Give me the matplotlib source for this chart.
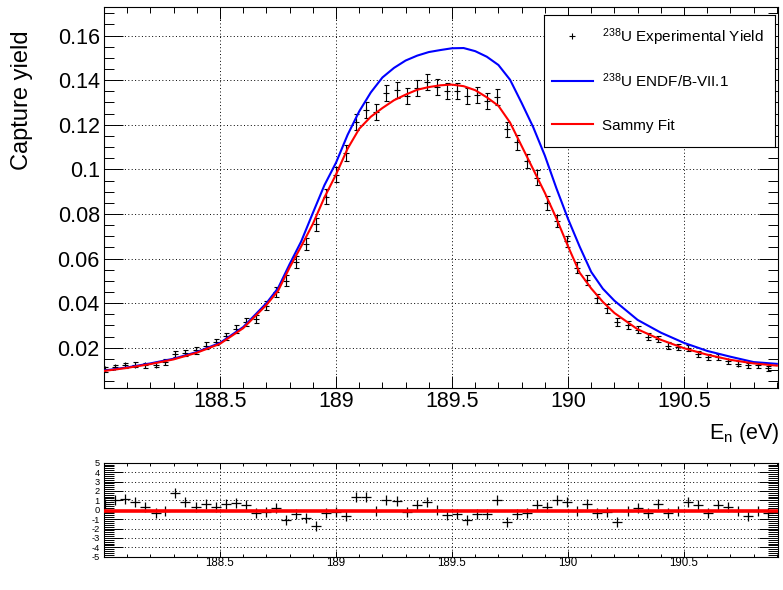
import matplotlib
matplotlib.use('Agg')
import matplotlib.pyplot as plt
from matplotlib.ticker import MultipleLocator, FixedLocator, FuncFormatter

plt.rcParams['font.family'] = ['Liberation Sans', 'DejaVu Sans']
plt.rcParams['mathtext.default'] = 'regular'

# measured points (bin centres, eV)
energy = [188.005, 188.048, 188.092, 188.135, 188.178, 188.222, 188.265, 188.308,
          188.351, 188.395, 188.438, 188.481, 188.525, 188.568, 188.611, 188.655,
          188.698, 188.741, 188.784, 188.828, 188.871, 188.914, 188.958, 189.001,
          189.044, 189.088, 189.131, 189.174, 189.217, 189.261, 189.304, 189.347,
          189.391, 189.434, 189.477, 189.521, 189.564, 189.607, 189.650, 189.694,
          189.737, 189.780, 189.824, 189.867, 189.910, 189.954, 189.997, 190.040,
          190.083, 190.127, 190.170, 190.213, 190.257, 190.300, 190.343, 190.387,
          190.430, 190.473, 190.516, 190.560, 190.603, 190.646, 190.690, 190.733,
          190.776, 190.820, 190.863]
yield_exp = [0.0103, 0.0114, 0.0121, 0.0124, 0.0121, 0.0124, 0.0136, 0.0173,
             0.0176, 0.0188, 0.0210, 0.0226, 0.0252, 0.0285, 0.0317, 0.0329,
             0.0389, 0.0451, 0.0501, 0.0585, 0.0665, 0.0754, 0.0878, 0.0977,
             0.1074, 0.1211, 0.1268, 0.1256, 0.1343, 0.1354, 0.1330, 0.1365,
             0.1392, 0.1369, 0.1350, 0.1350, 0.1330, 0.1335, 0.1305, 0.1325,
             0.1179, 0.1122, 0.1037, 0.0963, 0.0850, 0.0769, 0.0677, 0.0560,
             0.0504, 0.0422, 0.0377, 0.0315, 0.0303, 0.0282, 0.0250, 0.0240,
             0.0210, 0.0203, 0.0198, 0.0173, 0.0158, 0.0158, 0.0139, 0.0128,
             0.0121, 0.0121, 0.0109]
yield_err = [0.0011, 0.0011, 0.0011, 0.0011, 0.0011, 0.0012, 0.0012,
             0.0013, 0.0013, 0.0014, 0.0015, 0.0015, 0.0016,
             0.0017, 0.0018, 0.0018, 0.0020, 0.0022, 0.0024, 0.0026,
             0.0028, 0.0030, 0.0032, 0.0034, 0.0035,
             0.0036, 0.0036, 0.0036, 0.0036, 0.0036, 0.0036, 0.0036, 0.0036,
             0.0036, 0.0036, 0.0036, 0.0036, 0.0036, 0.0036, 0.0036,
             0.0035, 0.0034, 0.0033, 0.0032, 0.0030,
             0.0028, 0.0026, 0.0024, 0.0022, 0.0021, 0.0019, 0.0018,
             0.0017, 0.0016, 0.0015, 0.0015, 0.0014, 0.0014,
             0.0013, 0.0013, 0.0012, 0.0012, 0.0012, 0.0011, 0.0011, 0.0011, 0.0011]
residual = [0.6, 1.0, 1.1, 0.85, 0.32, -0.38, -0.1, 1.8, 0.85, 0.25, 0.6, 0.32,
            0.6, 0.68, 0.5, -0.38, -0.2, 0.15, -1.1, -0.46, -0.92, -1.73, -0.32,
            -0.2, -0.67, 1.38, 1.38, -0.1, 1.03, 0.96, -0.2, 0.5, 0.85, 0.0,
            -0.56, -0.5, -1.1, -0.5, -0.5, 1.03, -1.28, -0.46, -0.38, 0.5, 0.25,
            1.03, 0.78, -0.1, 0.6, -0.38, -0.2, -1.28, -0.1, 0.15, -0.38, 0.6,
            -0.38, -0.1, 0.85, 0.5, -0.38, 0.5, 0.25, -0.1, -0.63, -0.1, -0.38]
resid_level = -0.1

# theory curves
curve_e = [188.0, 188.1, 188.2, 188.3, 188.4, 188.5, 188.6, 188.7, 188.75, 188.8,
           188.85, 188.9, 188.95, 189.0, 189.05, 189.1, 189.15, 189.2, 189.25,
           189.3, 189.35, 189.4, 189.45, 189.5, 189.55, 189.6, 189.65, 189.7,
           189.75, 189.8, 189.85, 189.9, 189.95, 190.0, 190.05, 190.1, 190.15,
           190.2, 190.3, 190.4, 190.5, 190.6, 190.7, 190.8, 190.9]
sammy_fit = [0.0096, 0.0110, 0.0127, 0.0148, 0.0178, 0.0218, 0.0288, 0.0392,
             0.0455, 0.0560, 0.0655, 0.0755, 0.0874, 0.0977, 0.1093, 0.1182,
             0.1236, 0.1275, 0.1310, 0.1335, 0.1357, 0.1369, 0.1377, 0.1380,
             0.1373, 0.1355, 0.1323, 0.1285, 0.1210, 0.1105, 0.1000, 0.0895,
             0.0780, 0.0655, 0.0537, 0.0466, 0.0406, 0.0356, 0.0283, 0.0236,
             0.0198, 0.0169, 0.0146, 0.0130, 0.0120]
endf = [0.0098, 0.0112, 0.0130, 0.0151, 0.0181, 0.0222, 0.0293, 0.0400,
        0.0467, 0.0575, 0.0677, 0.0804, 0.0929, 0.1030, 0.1155, 0.1260,
        0.1345, 0.1412, 0.1455, 0.1488, 0.1510, 0.1526, 0.1535, 0.1543,
        0.1544, 0.1530, 0.1505, 0.1468, 0.1402, 0.1298, 0.1189, 0.1062,
        0.0915, 0.0778, 0.0654, 0.0540, 0.0465, 0.0411, 0.0325, 0.0268,
        0.0222, 0.0186, 0.0160, 0.0136, 0.0128]

labels = ['$^{238}$U Experimental Yield', '$^{238}$U ENDF/B-VII.1', 'Sammy Fit']
blue, red = '#0000ff', '#ff0000'

W, H = 783, 590
fig = plt.figure(figsize=(W / 100, H / 100), dpi=100)

ax = fig.add_axes([104 / W, 1 - 387.5 / H, 674 / W, 380.5 / H])
ax2 = fig.add_axes([104 / W, 1 - 556.7 / H, 674 / W, 94 / H])

grid_style = dict(color='black', linestyle=(0, (1, 2.5)), linewidth=0.7)
fmt = FuncFormatter(lambda v, p: '%g' % round(v, 4))

ax.errorbar(energy, yield_exp, yerr=yield_err, fmt='+', color='black', ms=4,
            mew=0.8, elinewidth=0.8, capsize=1.8, capthick=0.8, zorder=3)
ax.plot(curve_e, endf, color=blue, lw=1.5, zorder=4)
ax.plot(curve_e, sammy_fit, color=red, lw=1.5, zorder=5)

ax.set_xlim(188.0, 190.905)
ax.set_ylim(0.0022, 0.1728)
ax.xaxis.set_major_locator(FixedLocator([188.5, 189.0, 189.5, 190.0, 190.5]))
ax.xaxis.set_minor_locator(MultipleLocator(0.1))
ax.yaxis.set_major_locator(MultipleLocator(0.02))
ax.yaxis.set_minor_locator(MultipleLocator(0.005))
ax.xaxis.set_major_formatter(fmt)
ax.yaxis.set_major_formatter(fmt)
ax.grid(True, which='major', **grid_style)
ax.tick_params(which='both', direction='in', top=True, right=True, width=0.7,
               labelsize=15.5)
ax.tick_params(axis='y', which='major', length=14, pad=3)
ax.tick_params(axis='y', which='minor', length=7.5)
ax.tick_params(axis='x', which='major', length=8.5, pad=2.5)
ax.tick_params(axis='x', which='minor', length=4.5)
for s in ax.spines.values():
    s.set_linewidth(0.8)

fig.text(21.7 / W, 1 - 30 / H, 'Capture yield', rotation=90, ha='center',
         va='top', fontsize=17)
fig.text(780 / W, 1 - 433 / H, 'E$_{n}$ (eV)', ha='right', va='center',
         fontsize=15.5)

# legend box, drawn in its own pixel-scaled axes
lax = fig.add_axes([544 / W, 1 - 147 / H, 231 / W, 132 / H], zorder=10)
lax.set_xlim(0, 231)
lax.set_ylim(132, 0)
lax.set_xticks([])
lax.set_yticks([])
for s in lax.spines.values():
    s.set_linewidth(0.8)
rows = [21, 66, 109.3]
lax.plot([27.7], [rows[0]], '+', color='black', ms=4, mew=0.8)
lax.plot([7.7, 48.7], [rows[1], rows[1]], color=blue, lw=1.5)
lax.plot([7.7, 48.7], [rows[2], rows[2]], color=red, lw=1.5)
for yy, lab in zip(rows, labels):
    lax.text(57.7, yy + 5.5, lab, fontsize=11, va='baseline', ha='left')

# residual panel
ax2.plot(energy, residual, '+', color='black', ms=7, mew=0.9, zorder=3)
ax2.axhline(resid_level, color=red, lw=2.6, zorder=4)
ax2.set_xlim(188.0, 190.905)
ax2.set_ylim(-5, 5)
ax2.xaxis.set_major_locator(FixedLocator([188.5, 189.0, 189.5, 190.0, 190.5]))
ax2.xaxis.set_minor_locator(MultipleLocator(0.1))
ax2.yaxis.set_major_locator(MultipleLocator(1))
ax2.yaxis.set_minor_locator(MultipleLocator(0.2))
ax2.xaxis.set_major_formatter(fmt)
ax2.yaxis.set_major_formatter(FuncFormatter(lambda v, p: '%d' % round(v)))
ax2.grid(True, which='major', **grid_style)
ax2.tick_params(which='both', direction='in', top=True, right=True, width=0.7)
ax2.tick_params(axis='x', labelsize=8.3)
ax2.tick_params(axis='y', labelsize=6.7)
ax2.tick_params(axis='y', which='major', length=14, pad=3)
ax2.tick_params(axis='y', which='minor', length=7.5)
ax2.tick_params(axis='x', which='major', length=4.5, pad=0.5)
ax2.tick_params(axis='x', which='minor', length=2.2)
for s in ax2.spines.values():
    s.set_linewidth(0.8)

fig.savefig('out.png', dpi=100)
